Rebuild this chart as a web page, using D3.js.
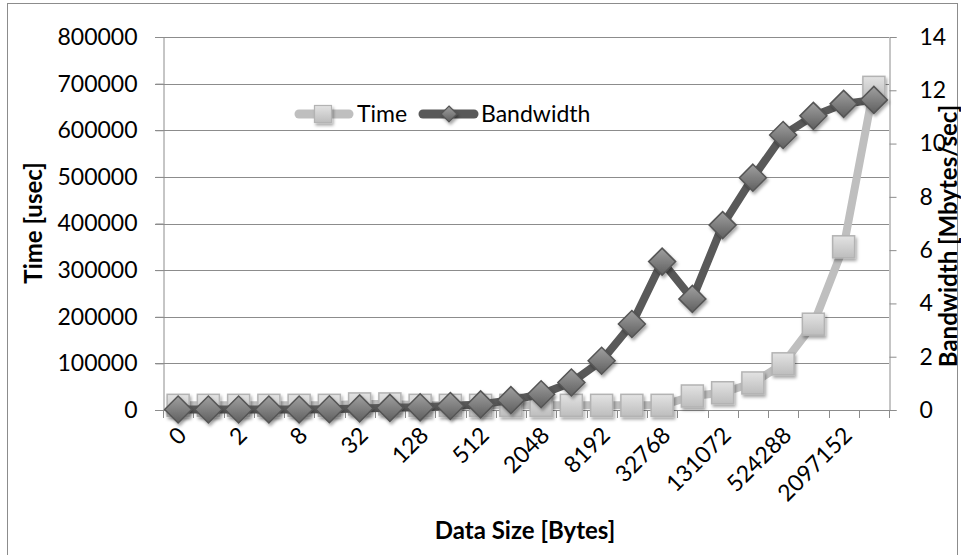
<!DOCTYPE html>
<html>
<head>
<meta charset="utf-8">
<script src="https://cdn.jsdelivr.net/npm/d3@7/dist/d3.min.js"></script>
<style>
  html, body { margin: 0; padding: 0; background: #fff; }
  svg { display: block; }
  text { font-family: Lato, "Open Sans", sans-serif; fill: #000; }
</style>
</head>
<body>
<svg id="chart" width="961" height="555"></svg>
<script>
// ---------------- data ----------------
const categories = ["0","1","2","4","8","16","32","64","128","256","512","1024","2048","4096",
  "8192","16384","32768","65536","131072","262144","524288","1048576","2097152","4194304"];
const xTickLabels = ["0","2","8","32","128","512","2048","8192","32768","131072","524288","2097152"];
const timeUsec = [10000,10000,10000,10000,10000,10000,13000,13000,10000,10000,10000,10000,
  10000,10000,10000,10000,10000,30000,37000,58000,99000,184000,350000,692000];
const bandwidth = [0.02,0.02,0.02,0.02,0.02,0.03,0.06,0.08,0.1,0.15,0.21,0.37,
  0.59,1.03,1.85,3.23,5.57,4.17,6.94,8.72,10.32,11.04,11.49,11.64];
const leftTicks = [0,100000,200000,300000,400000,500000,600000,700000,800000];
const rightTicks = [0,2,4,6,8,10,12,14];
const seriesNames = ["Time","Bandwidth"];

// ---------------- layout ----------------
const plot = { left: 163, right: 889, top: 37, bottom: 410 };
const svg = d3.select("#chart");

const defs = svg.append("defs");
const f = defs.append("filter").attr("id","shadow").attr("x","-50%").attr("y","-50%").attr("width","200%").attr("height","200%");
f.append("feDropShadow").attr("dx",1.5).attr("dy",2.5).attr("stdDeviation",1.5)
  .attr("flood-color","#000").attr("flood-opacity",0.35);
const gSq = defs.append("linearGradient").attr("id","gSq").attr("x1",0).attr("y1",0).attr("x2",0).attr("y2",1);
gSq.append("stop").attr("offset","0%").attr("stop-color","#e3e3e3");
gSq.append("stop").attr("offset","100%").attr("stop-color","#bdbdbd");
const gDi = defs.append("linearGradient").attr("id","gDi").attr("x1",0).attr("y1",0).attr("x2",0).attr("y2",1);
gDi.append("stop").attr("offset","0%").attr("stop-color","#a0a0a0");
gDi.append("stop").attr("offset","100%").attr("stop-color","#5f5f5f");

// outer border
svg.append("rect").attr("x",7.5).attr("y",3.5).attr("width",950).attr("height",556)
  .attr("fill","none").attr("stroke","#8c8c8c").attr("stroke-width",1);

// scales
const x = d3.scaleBand().domain(categories).range([plot.left, plot.right]).padding(0);
const yL = d3.scaleLinear().domain([0,800000]).range([plot.bottom, plot.top]);
const yR = d3.scaleLinear().domain([0,14]).range([plot.bottom, plot.top]);
const cx = d => x(d) + x.bandwidth()/2;

// gridlines
svg.append("g").selectAll("line").data(leftTicks).join("line")
  .attr("x1", plot.left - 8).attr("x2", plot.right)
  .attr("y1", d => Math.round(yL(d)) + 0.5).attr("y2", d => Math.round(yL(d)) + 0.5)
  .attr("stroke","#8c8c8c").attr("stroke-width",1);

// left axis
const axL = svg.append("g").attr("transform",`translate(${plot.left + 0.5},0)`)
  .call(d3.axisLeft(yL).tickValues(leftTicks).tickFormat(d3.format("d")).tickSize(8).tickPadding(18));
axL.select(".domain").attr("stroke","#8c8c8c");
axL.selectAll(".tick line").attr("stroke","#8c8c8c");
axL.selectAll("text").attr("font-size","23px").attr("font-family","Lato, sans-serif").attr("fill","#000");

// right axis
const axR = svg.append("g").attr("transform",`translate(${plot.right + 0.5},0)`)
  .call(d3.axisRight(yR).tickValues(rightTicks).tickSize(7).tickPadding(23));
axR.select(".domain").attr("stroke","#8c8c8c");
axR.selectAll(".tick line").attr("stroke","#8c8c8c");
axR.selectAll("text").attr("font-size","23px").attr("font-family","Lato, sans-serif").attr("fill","#000");

// bottom axis (ticks at category boundaries)
const bounds = categories.map(c => x(c)).concat([plot.right]);
svg.append("g").selectAll("line").data(bounds).join("line")
  .attr("x1", d => Math.round(d) + 0.5).attr("x2", d => Math.round(d) + 0.5)
  .attr("y1", plot.bottom).attr("y2", plot.bottom + 8)
  .attr("stroke","#8c8c8c");
svg.append("line").attr("x1",plot.left).attr("x2",plot.right)
  .attr("y1",Math.round(plot.bottom)+0.5).attr("y2",Math.round(plot.bottom)+0.5)
  .attr("stroke","#8c8c8c");

svg.append("g").selectAll("text").data(xTickLabels).join("text")
  .attr("transform", d => `translate(${cx(d) + 4},${plot.bottom + 21}) rotate(-45)`)
  .attr("text-anchor","end").attr("dy","0.35em")
  .attr("font-size","23px").text(d => d);

// lines
const lineT = d3.line().x((d,i) => cx(categories[i])).y(d => yL(d));
const lineB = d3.line().x((d,i) => cx(categories[i])).y(d => yR(d));

svg.append("path").datum(timeUsec).attr("d", lineT)
  .attr("fill","none").attr("stroke","#bfbfbf").attr("stroke-width",8)
  .attr("stroke-linejoin","round").attr("stroke-linecap","round");
svg.append("g").selectAll("rect").data(timeUsec).join("rect")
  .attr("x",(d,i) => cx(categories[i]) - 11).attr("y", d => yL(d) - 11)
  .attr("width",22).attr("height",22)
  .attr("fill","url(#gSq)").attr("stroke","#b3b3b3").attr("stroke-width",1.5)
  .attr("filter","url(#shadow)");

svg.append("path").datum(bandwidth).attr("d", lineB)
  .attr("fill","none").attr("stroke","#595959").attr("stroke-width",8)
  .attr("stroke-linejoin","round").attr("stroke-linecap","round");
const diamond = s => `M0,${-s}L${s},0L0,${s}L${-s},0Z`;
svg.append("g").selectAll("path").data(bandwidth).join("path")
  .attr("transform",(d,i) => `translate(${cx(categories[i])},${yR(d)})`)
  .attr("d", diamond(13.5))
  .attr("fill","url(#gDi)").attr("stroke","#555").attr("stroke-width",1.5)
  .attr("filter","url(#shadow)");

// legend
const lg = svg.append("g");
const ly = 114;
lg.append("line").attr("x1",299).attr("x2",349).attr("y1",ly).attr("y2",ly)
  .attr("stroke","#bfbfbf").attr("stroke-width",9).attr("stroke-linecap","round");
lg.append("rect").attr("x",323-8.5).attr("y",ly-8.5).attr("width",17).attr("height",17)
  .attr("fill","url(#gSq)").attr("stroke","#b3b3b3").attr("stroke-width",1.2).attr("filter","url(#shadow)");
lg.append("text").attr("x",357).attr("y",ly).attr("dy","0.35em").attr("font-size","23px").text(seriesNames[0]);
lg.append("line").attr("x1",423).attr("x2",474).attr("y1",ly).attr("y2",ly)
  .attr("stroke","#595959").attr("stroke-width",9).attr("stroke-linecap","round");
lg.append("path").attr("transform",`translate(449,${ly})`).attr("d",diamond(8))
  .attr("fill","url(#gDi)").attr("stroke","#555").attr("stroke-width",1.2).attr("filter","url(#shadow)");
lg.append("text").attr("x",481).attr("y",ly).attr("dy","0.35em").attr("font-size","23px").text(seriesNames[1]);

// axis titles
svg.append("text").attr("transform","translate(34,223) rotate(-90)")
  .attr("text-anchor","middle").attr("dy","0.35em")
  .attr("font-size","24px").attr("font-weight","bold").text("Time [usec]");
svg.append("text").attr("transform","translate(949,236) rotate(-90)")
  .attr("text-anchor","middle").attr("dy","0.35em")
  .attr("font-size","24px").attr("font-weight","bold").text("Bandwidth [Mbytes/sec]");
svg.append("text").attr("x",525).attr("y",539)
  .attr("text-anchor","middle")
  .attr("font-size","24px").attr("font-weight","bold").text("Data Size [Bytes]");
</script>
</body>
</html>
